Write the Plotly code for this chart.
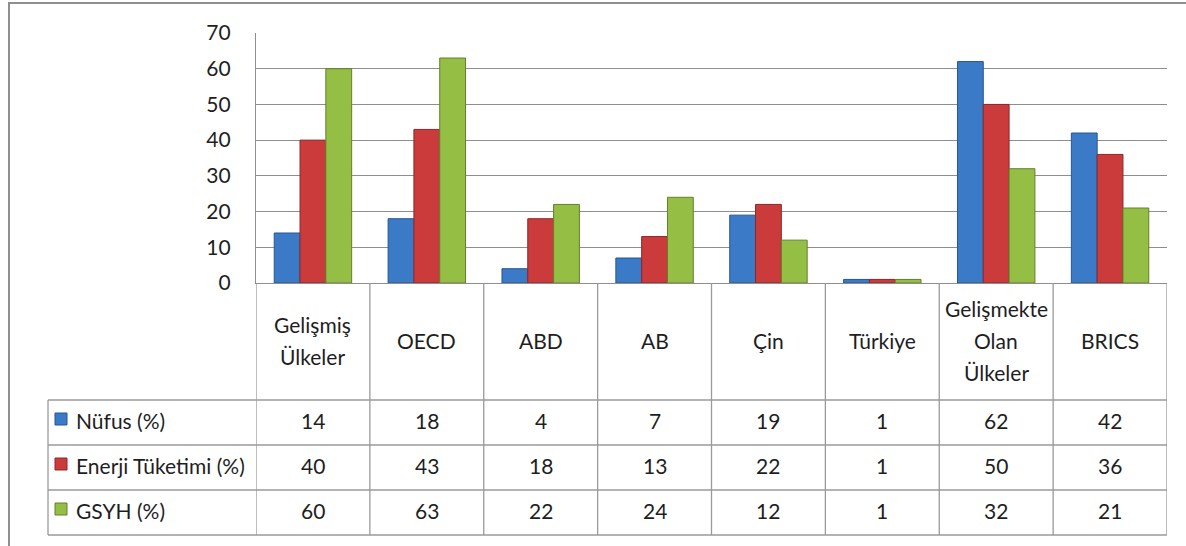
import plotly.graph_objects as go

categories = ["Gelişmiş Ülkeler", "OECD", "ABD", "AB", "Çin", "Türkiye",
              "Gelişmekte Olan Ülkeler", "BRICS"]
series_names = ["Nüfus (%)", "Enerji Tüketimi (%)", "GSYH (%)"]
nufus = [14, 18, 4, 7, 19, 1, 62, 42]
enerji = [40, 43, 18, 13, 22, 1, 50, 36]
gsyh = [60, 63, 22, 24, 12, 1, 32, 21]
y_ticks = [0, 10, 20, 30, 40, 50, 60, 70]

series_values = [nufus, enerji, gsyh]
fill_colors = ["#3B7AC6", "#CB3B3B", "#95BE44"]
edge_colors = ["#28568F", "#8E2727", "#62802B"]

FONT = "Lato, 'Noto Sans', sans-serif"
TXT = "#1E1E1E"
GRID = "#8E8E8E"
TABLE = "#9A9A9A"
FS = 21

W, H = 1186, 546
L, R, T, B = 256, 1167, 33, 283          # plot area in pixels


def px(xp):
    return (xp - L) / (R - L)


def py(yp):
    return (B - yp) / (B - T)


fig = go.Figure()
for name, vals, fc, ec in zip(series_names, series_values, fill_colors, edge_colors):
    fig.add_trace(go.Bar(
        x=categories, y=vals, name=name,
        marker=dict(color=fc, line=dict(color=ec, width=1)),
        hoverinfo="x+y+name",
    ))

shapes = []
annotations = []

# outer frame (partially cropped at right/bottom)
shapes.append(dict(type="rect", xref="paper", yref="paper",
                   x0=px(9), x1=px(1200), y0=py(570), y1=py(3),
                   line=dict(color="#8F8F8F", width=2), layer="below"))

# table horizontal lines
row_lines = [400, 445, 490, 535]
for yl in row_lines:
    shapes.append(dict(type="line", xref="paper", yref="paper",
                       x0=px(48), x1=px(R), y0=py(yl), y1=py(yl),
                       line=dict(color=TABLE, width=1.3)))
# table vertical lines
shapes.append(dict(type="line", xref="paper", yref="paper",
                   x0=px(48), x1=px(48), y0=py(400), y1=py(535),
                   line=dict(color=TABLE, width=1.3)))
for i in range(len(categories) + 1):
    shapes.append(dict(type="line", xref="x", yref="paper",
                       x0=i - 0.5, x1=i - 0.5, y0=py(B), y1=py(535),
                       line=dict(color=TABLE, width=1.3)))

# header labels (one annotation per line)
line_gap = 32
header_center = 341.5
for i, cat in enumerate(categories):
    parts = cat.split(" ")
    n = len(parts)
    for k, part in enumerate(parts):
        yc = header_center + (k - (n - 1) / 2) * line_gap - 1
        annotations.append(dict(x=i, y=py(yc), xref="x", yref="paper",
                                text=part, showarrow=False,
                                xanchor="center", yanchor="middle",
                                font=dict(family=FONT, size=FS, color=TXT)))

# data rows
row_centers = [420, 465, 510]
for r, (name, vals, fc, ec) in enumerate(zip(series_names, series_values,
                                             fill_colors, edge_colors)):
    yc = row_centers[r]
    shapes.append(dict(type="rect", xref="paper", yref="paper",
                       x0=px(55), x1=px(67), y0=py(yc + 5), y1=py(yc - 7),
                       fillcolor=fc, line=dict(color=ec, width=1)))
    annotations.append(dict(x=px(74), y=py(yc), xref="paper", yref="paper",
                            text=name, showarrow=False,
                            xanchor="left", yanchor="middle",
                            font=dict(family=FONT, size=FS, color=TXT)))
    for i, v in enumerate(vals):
        annotations.append(dict(x=i, y=py(yc), xref="x", yref="paper",
                                text=str(v), showarrow=False,
                                xanchor="center", yanchor="middle",
                                font=dict(family=FONT, size=FS, color=TXT)))

fig.update_layout(
    width=W, height=H,
    margin=dict(l=L, r=W - R, t=T, b=H - B, pad=0),
    paper_bgcolor="white", plot_bgcolor="white",
    showlegend=False,
    barmode="group", bargap=0.32, bargroupgap=0,
    font=dict(family=FONT, color=TXT),
    shapes=shapes, annotations=annotations,
    xaxis=dict(type="category", range=[-0.5, len(categories) - 0.5],
               showticklabels=False, showgrid=False, zeroline=False,
               showline=True, linecolor=GRID, linewidth=1.3, ticks=""),
    yaxis=dict(range=[0, 70], tickvals=y_ticks, ticks="",
               showgrid=True, gridcolor=GRID, gridwidth=1.3,
               zeroline=False, showline=True, linecolor=GRID, linewidth=1.3,
               ticklabelstandoff=20,
               tickfont=dict(family=FONT, size=FS, color=TXT)),
)

fig.write_html("out.html")
